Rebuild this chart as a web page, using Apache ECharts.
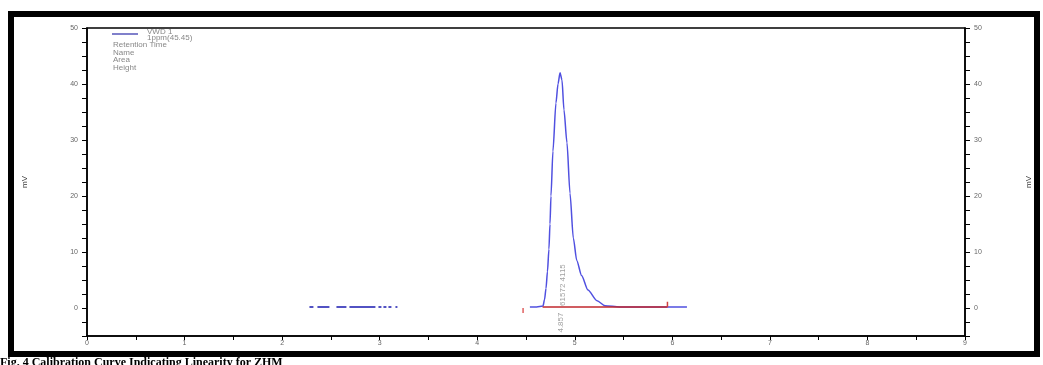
<!DOCTYPE html>
<html>
<head>
<meta charset="utf-8">
<script src="https://cdn.jsdelivr.net/npm/echarts@6/dist/echarts.min.js"></script>
<style>
html,body{margin:0;padding:0;background:#fff;}
#c{width:1043px;height:365px;}
</style>
</head>
<body>
<div id="c"></div>
<script>
// ---- data ----
var traceTimes  = [4.54, 4.61, 4.674, 4.69, 4.705, 4.72, 4.735, 4.746, 4.756, 4.776, 4.807, 4.828, 4.849, 4.869, 4.889, 4.920, 4.951, 4.985, 5.02, 5.07, 5.135, 5.228, 5.31, 5.46, 6.15];
var traceValues = [0.2, 0.2, 0.35, 1.5, 3.5, 6.5, 10.5, 15.0, 20.0, 28.0, 36.6, 40.0, 42.0, 40.7, 35.4, 29.5, 20.5, 12.5, 8.5, 5.8, 3.2, 1.3, 0.4, 0.2, 0.2];
var earlyTimes  = [2.28, 3.24];
var earlyValues = [0.2, 0.2];
var baselineTimes  = [4.67, 5.95];
var baselineValues = [0.2, 0.2];
var startMarkTimes  = [4.47, 4.47];
var startMarkValues = [-0.9, 0.0];
var endMarkTimes  = [5.95, 5.95];
var endMarkValues = [0.2, 1.1];
var peakLabelTimes  = [4.875, 4.855];
var peakLabelValues = [4.1, -2.6];
var peakLabelTexts  = ['61572 4115', '4.857'];
var yTickLabels = [0, 10, 20, 30, 40, 50];
var legendLines = ['VWD 1', '1ppm(45.45)', 'Retention Time', 'Name', 'Area', 'Height'];

function pairs(xs, ys){ var o=[]; for(var i=0;i<xs.length;i++){ o.push([xs[i], ys[i]]); } return o; }

var chart = echarts.init(document.getElementById('c'), null, {renderer:'canvas'});
var tickFont = {fontFamily:'Liberation Sans, Arial, sans-serif', fontSize:7, color:'#666'};
function yLabel(v){ return (yTickLabels.indexOf(v) >= 0) ? String(v) : ''; }

var yAxisBase = {
  type:'value', min:-5, max:50, interval:5,
  name:'mV', nameLocation:'middle',
  nameTextStyle:{fontFamily:'Liberation Sans, Arial, sans-serif', fontSize:8, color:'#333'},
  axisLine:{show:true, lineStyle:{color:'#000', width:1.5}},
  axisTick:{show:true, inside:false, length:5, lineStyle:{color:'#000', width:1}},
  minorTick:{show:true, splitNumber:2, length:5, lineStyle:{color:'#000', width:1}},
  splitLine:{show:false},
  axisLabel:Object.assign({formatter:yLabel, margin:9}, tickFont)
};

var option = {
  animation:false,
  backgroundColor:'#fff',
  grid:{left:87, right:78, top:28, bottom:29, show:true, borderColor:'#000', borderWidth:1.5, backgroundColor:'transparent'},
  xAxis:{
    type:'value', min:0, max:9, interval:1,
    name:'Minutes', nameLocation:'middle', nameGap:12,
    nameTextStyle:{fontFamily:'Liberation Sans, Arial, sans-serif', fontSize:7, color:'#666'},
    axisLine:{show:true, onZero:false, lineStyle:{color:'#000', width:1.5}},
    axisTick:{show:true, length:4, lineStyle:{color:'#000', width:1}},
    minorTick:{show:true, splitNumber:2, length:4, lineStyle:{color:'#000', width:1}},
    splitLine:{show:false},
    axisLabel:Object.assign({margin:4}, tickFont)
  },
  yAxis:[
    Object.assign({}, yAxisBase, {position:'left', nameGap:58}),
    Object.assign({}, yAxisBase, {position:'right', nameGap:60})
  ],
  series:[
    {type:'line', name:'VWD 1', data:pairs(traceTimes, traceValues), showSymbol:false, symbol:'none',
     smooth:0.25, smoothMonotone:'x',
     lineStyle:{color:'#5050e0', width:1.5}, z:3},
    {type:'line', data:pairs(earlyTimes, earlyValues), showSymbol:false, symbol:'none',
     lineStyle:{color:'#1a1ab0', width:1.5, type:[4,4,12,7,10,3,26,3,3,2,3,2,3,4,2,7]}, z:3},
    {type:'line', data:pairs(baselineTimes, baselineValues), showSymbol:false, symbol:'none',
     lineStyle:{color:'#c0272d', width:1.5}, z:4},
    {type:'line', data:pairs(startMarkTimes, startMarkValues), showSymbol:false, symbol:'none',
     lineStyle:{color:'#e06060', width:1.5}, z:4},
    {type:'line', data:pairs(endMarkTimes, endMarkValues), showSymbol:false, symbol:'none',
     lineStyle:{color:'#d04040', width:1.5}, z:4},
    {type:'scatter', symbolSize:0, z:5,
     data:peakLabelTimes.map(function(t,i){ return {value:[t, peakLabelValues[i]], name:peakLabelTexts[i]}; }),
     label:{show:true, position:'inside', rotate:90, formatter:'{b}',
            fontFamily:'Liberation Sans, Arial, sans-serif', fontSize:8, color:'#888'}}
  ],
  graphic:[
    {type:'rect', shape:{x:11, y:14, width:1026, height:340}, style:{fill:'none', stroke:'#000', lineWidth:6}, silent:true, z:10},
    {type:'line', shape:{x1:112, y1:34, x2:138, y2:34}, style:{stroke:'#2a2aa8', lineWidth:1.2}, z:10},
    {type:'text', left:147, top:28, style:{text:legendLines[0], font:'8px Liberation Sans, Arial, sans-serif', fill:'#888'}, z:10},
    {type:'text', left:147, top:34, style:{text:legendLines[1], font:'8px Liberation Sans, Arial, sans-serif', fill:'#888'}, z:10},
    {type:'text', left:113, top:41, style:{text:legendLines[2], font:'8px Liberation Sans, Arial, sans-serif', fill:'#888'}, z:10},
    {type:'text', left:113, top:48.5, style:{text:legendLines[3], font:'8px Liberation Sans, Arial, sans-serif', fill:'#888'}, z:10},
    {type:'text', left:113, top:56, style:{text:legendLines[4], font:'8px Liberation Sans, Arial, sans-serif', fill:'#888'}, z:10},
    {type:'text', left:113, top:63.5, style:{text:legendLines[5], font:'8px Liberation Sans, Arial, sans-serif', fill:'#888'}, z:10},
    {type:'text', left:0, top:357, style:{text:'Fig. 4 Calibration Curve Indicating Linearity for ZHM', font:'bold 12px Liberation Serif, Times New Roman, serif', fill:'#000'}, z:10}
  ]
};
chart.setOption(option);
</script>
</body>
</html>
